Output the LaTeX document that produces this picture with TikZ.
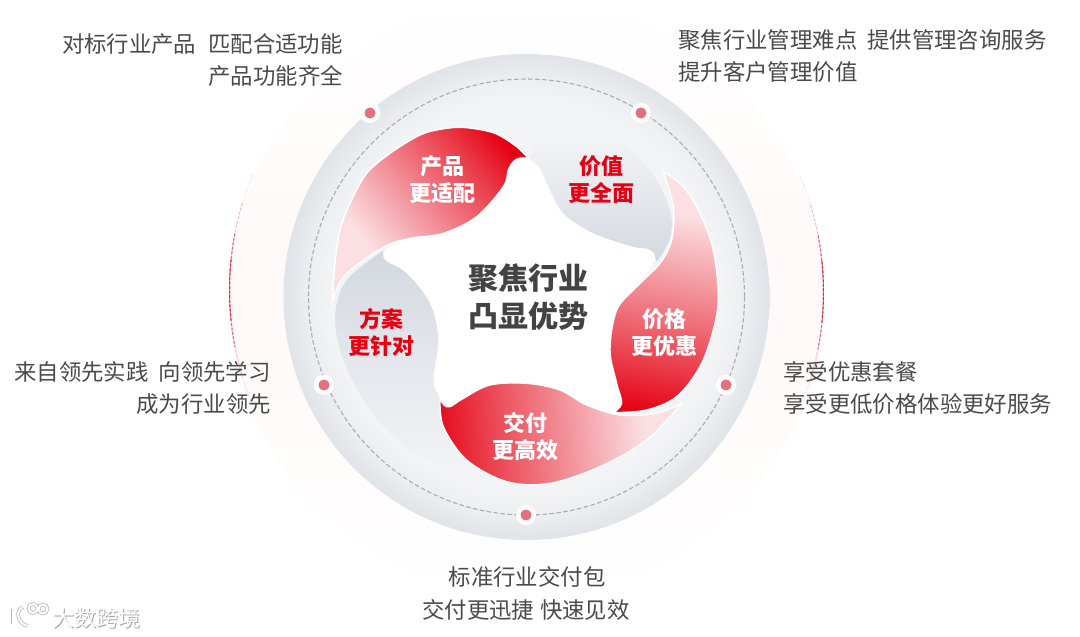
\documentclass[tikz,border=0pt]{standalone}
\usepackage{fontspec}
\setmainfont{Noto Sans CJK SC}
\definecolor{brand}{HTML}{E60012}
\definecolor{txt}{HTML}{4A4A4A}
\definecolor{dotc}{HTML}{E4707E}
\definecolor{halo}{HTML}{FFF8F8}
\definecolor{graypet}{HTML}{D3D8E0}
\definecolor{discc}{HTML}{F3F4F6}
\definecolor{ringc}{HTML}{E0E3E7}
\definecolor{ringm}{HTML}{ECEEF0}
\definecolor{FADADD}{HTML}{FBDFE2}
\definecolor{F39AA2}{HTML}{F4A3AA}
\definecolor{EF6B76}{HTML}{EF6F7A}
\definecolor{EA3443}{HTML}{EA3A48}
\definecolor{E60012}{HTML}{E60012}
\definecolor{dashstrong}{HTML}{CF2F45}
\definecolor{dashmid}{HTML}{E06A7C}
\definecolor{dashweak}{HTML}{F4C0C8}
\definecolor{dashfaint}{HTML}{FBE3E6}
\pgfdeclareradialshading{ringshade}{\pgfpoint{0bp}{0bp}}{color(0bp)=(white);color(14bp)=(discc);color(20bp)=(discc);color(22.5bp)=(ringm);color(25bp)=(ringc);color(50bp)=(ringc)}
\pgfdeclareverticalshading{redgrad}{100bp}{color(0bp)=(FADADD);color(32bp)=(FADADD);color(45bp)=(F39AA2);color(56bp)=(EF6B76);color(67bp)=(EA3443);color(78bp)=(E60012);color(100bp)=(E60012)}
\tikzset{
  side/.style={font=\fontsize{22.4}{24}\selectfont,text=txt,inner sep=0pt},
  hub/.style={font=\fontsize{30}{38}\selectfont\bfseries,text=txt!90!black,align=center,inner sep=0pt},
  wlab/.style={font=\fontsize{22}{27}\selectfont\bfseries,text=white,align=center,inner sep=0pt},
  rlab/.style={font=\fontsize{22}{27}\selectfont\bfseries,text=brand,align=center,inner sep=0pt},
  dotn/.style={circle,fill=dotc,draw=white,line width=4.5pt,minimum size=15.5pt,inner sep=0pt},
  redpetal/.style={shading=redgrad,draw=white,line width=1.4pt,line join=round},
  wm/.style={font=\fontsize{22}{22}\selectfont,inner sep=0pt},
  halodash/.style={line width=1pt,dash pattern=on 3pt off 1.5pt},
}
\begin{document}
\begin{tikzpicture}[x=1pt,y=-1pt]
\useasboundingbox (0,0) rectangle (1080,637);
\fill[white] (0,0) rectangle (1080,637);
% halo
\shade[top color=white,bottom color=white,middle color=halo] (526.5,297) circle (297);
\foreach \a/\b/\c in {203/157/dashfaint,197/163/dashweak,191/169/dashmid,186/174/dashstrong}{
 \draw[halodash,\c] (526.5,290) ++(\a:297) arc (\a:\b:297);
}
\foreach \a/\b/\c in {-23/23/dashfaint,-17/17/dashweak,-11/11/dashmid,-6/6/dashstrong}{
 \draw[halodash,\c] (526.5,292) ++(\a:297) arc (\a:\b:297);
}
% ring
\shade[shading=ringshade] (526.5,297) circle (243);
\draw[black!33,line width=1.1pt,dash pattern=on 4.5pt off 2.5pt] (526.5,297) circle (218);
\begin{scope}[x=.33333pt,y=-.33333pt,shift={(300pt,-90pt)}]
% star
\fill[white] plot[smooth cycle,tension=.5] coordinates {(660,204)(640,215)(625,240)(610,290)(530,380)(430,430)(330,445)(265,470)(255,510)(320,550)(390,640)(415,750)(400,870)(420,930)(450,950)(490,925)(570,885)(680,880)(780,900)(860,945)(945,968)(965,940)(950,880)(930,780)(950,660)(1010,590)(1060,520)(1060,485)(1000,470)(880,430)(790,370)(745,290)(720,235)(685,205)};
% gray petals
\shade[top color=discc,bottom color=graypet,middle color=graypet!45!discc] plot[smooth,tension=.55] coordinates {(685,205)(720,160)(800,125)(950,150)(1060,255)(1112,370)(1108,450)(1070,515)} -- plot[smooth,tension=.55] coordinates {(1062,488)(1040,475)(1000,470)(880,430)(790,370)(745,290)(720,235)(685,205)} -- cycle;
\shade[top color=graypet,bottom color=discc,middle color=graypet!45!discc] plot[smooth,tension=.55] coordinates {(250,482)(140,570)(105,680)(130,810)(210,960)(340,1090)(540,1165)} -- plot[smooth,tension=.55] coordinates {(540,1165)(480,1090)(430,1010)(420,930)(400,870)(415,750)(390,640)(320,550)(255,510)(250,482)} -- cycle;
% red petals
\shade[redpetal,shading angle=-50] plot[smooth,tension=.55] coordinates {(685,205)(650,170)(590,132)(530,117)(470,112)(400,122)(350,140)(270,190)(200,250)(150,340)(120,420)(105,520)(97,635)} -- plot[smooth,tension=.55] coordinates {(97,635)(135,555)(250,472)(330,445)(430,430)(530,380)(610,290)(625,240)(640,215)(660,204)(685,205)} -- cycle;
\shade[redpetal,shading angle=170] plot[smooth,tension=.55] coordinates {(1090,245)(1150,290)(1200,370)(1240,480)(1255,620)(1240,720)(1200,830)(1130,920)(1040,960)(940,968)} -- plot[smooth,tension=.55] coordinates {(940,968)(965,940)(950,880)(930,780)(950,660)(1010,590)(1080,520)(1115,450)(1120,350)(1090,245)} -- cycle;
\shade[redpetal,shading angle=95] plot[smooth,tension=.55] coordinates {(420,925)(430,1010)(500,1110)(620,1175)(750,1180)(900,1130)(1040,1050)(1145,940)} -- plot[smooth,tension=.55] coordinates {(1145,940)(1070,970)(960,975)(860,945)(780,900)(680,880)(570,885)(490,925)(450,950)(432,945)(420,925)} -- cycle;
\end{scope}
% labels
\node[hub] (hubn) at (528,297) {聚焦行业\\凸显优势};
\node[wlab] (p1) at (442,180) {产品\\更适配};
\node[rlab] (p2) at (601,180) {价值\\更全面};
\node[wlab] (p3) at (664,333) {价格\\更优惠};
\node[wlab] (p4) at (525,437) {交付\\更高效};
\node[rlab] (p5) at (381,333) {方案\\更针对};
% dots
\node[dotn] (d1) at (370,113) {};
\node[dotn] (d2) at (641,113) {};
\node[dotn] (d3) at (726,385) {};
\node[dotn] (d4) at (526,515) {};
\node[dotn] (d5) at (324,385) {};
% side texts
\node[side,anchor=east] (t1a) at (343,44) {对标行业产品\hspace{12pt}匹配合适功能};
\node[side,anchor=east] (t1b) at (343,76) {产品功能齐全};
\node[side,anchor=west] (t2a) at (678,40) {聚焦行业管理难点\hspace{10pt}提供管理咨询服务};
\node[side,anchor=west] (t2b) at (678,72) {提升客户管理价值};
\node[side,anchor=west] (t3a) at (783,372) {享受优惠套餐};
\node[side,anchor=west] (t3b) at (783,404) {享受更低价格体验更好服务};
\node[side,anchor=east] (t4a) at (271,372) {来自领先实践\hspace{10pt}向领先学习};
\node[side,anchor=east] (t4b) at (271,404) {成为行业领先};
\node[side] (t5a) at (527,577) {标准行业交付包};
\node[side] (t5b) at (526,610) {交付更迅捷\hspace{6pt}快速见效};
% watermark
\node[wm,text=black!35] (wm0) at (97,618.7) {大数跨境};
\node[wm,text=white] (wm1) at (96.5,618) {大数跨境};
\foreach \c/\w in {black!28/3.6pt,white/2pt}{
 \draw[\c,line width=\w] (12.5,609) -- (12.5,624);
 \draw[\c,line width=\w] (23,607) .. controls (15,610) and (17,624) .. (28,626);
 \draw[\c,line width=\w] (33,608.5) circle (4.5);
 \draw[\c,line width=\w] (43,609) circle (4.5);
}
\end{tikzpicture}
\end{document}
